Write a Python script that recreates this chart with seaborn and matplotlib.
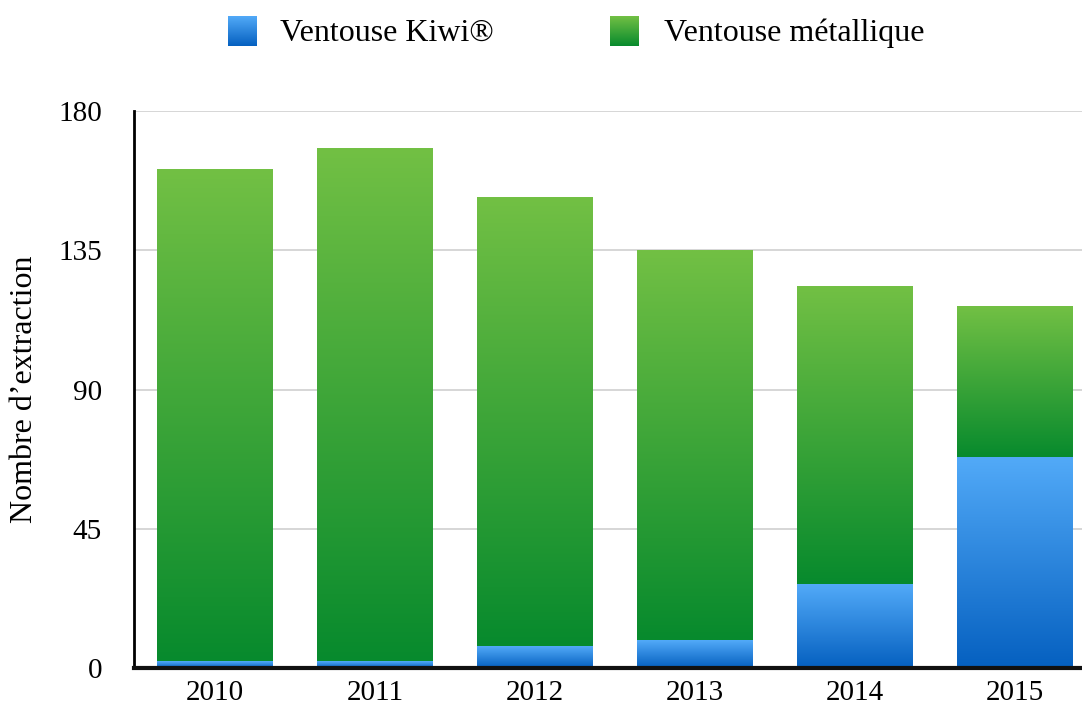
import numpy as np
import pandas as pd
import matplotlib
matplotlib.use("Agg")
import matplotlib.pyplot as plt
import seaborn as sns
from matplotlib.colors import LinearSegmentedColormap

# donnees
annees = ["2010", "2011", "2012", "2013", "2014", "2015"]
kiwi = [2, 2, 7, 9, 27, 68]
total = [161, 168, 152, 135, 123, 117]

serie_kiwi = "Ventouse Kiwi®"
serie_metal = "Ventouse métallique"

sns.set_style("white")
plt.rcParams["font.family"] = ["Liberation Serif", "DejaVu Serif"]
plt.rcParams["text.color"] = "black"
plt.rcParams["axes.labelcolor"] = "black"

df = pd.DataFrame({"annee": annees, "kiwi": kiwi, "total": total})

# degradés (haut clair -> bas foncé)
cmap_vert = LinearSegmentedColormap.from_list("vert", ["#078a2d", "#72c044"])
cmap_bleu = LinearSegmentedColormap.from_list("bleu", ["#0560c0", "#52aaf8"])
grad = np.linspace(0, 1, 256).reshape(-1, 1)

fig = plt.figure(figsize=(10.82, 7.07), dpi=100)
ax = fig.add_axes([134 / 1082, 1 - 668 / 707, (1082 - 134) / 1082, (668 - 111) / 707])

sns.barplot(data=df, x="annee", y="total", color="#3faa3a", width=0.72,
            ax=ax, saturation=1, zorder=2)
sns.barplot(data=df, x="annee", y="kiwi", color="#2a86e0", width=0.72,
            ax=ax, saturation=1, zorder=3)

# remplir chaque segment avec un degradé vertical
patches = ax.patches
n = len(annees)
for i, p in enumerate(patches[:n]):
    x0 = p.get_x()
    w = p.get_width()
    ax.imshow(grad, cmap=cmap_vert, origin="lower", aspect="auto",
              extent=[x0, x0 + w, kiwi[i], total[i]], zorder=4)
    p.set_visible(False)
for i, p in enumerate(patches[n:2 * n]):
    x0 = p.get_x()
    w = p.get_width()
    ax.imshow(grad, cmap=cmap_bleu, origin="lower", aspect="auto",
              extent=[x0, x0 + w, 0, kiwi[i]], zorder=4)
    p.set_visible(False)
ax.set_ylim(0, 180)
ax.set_xlim(-0.506, 5.419)

ax.set_yticks([0, 45, 90, 135, 180])
ax.yaxis.grid(True, color="#d3d3d3", linewidth=1.3, zorder=0)
ax.set_axisbelow(True)
ax.tick_params(axis="both", labelsize=21, length=0, colors="black")
ax.tick_params(axis="y", pad=23)
ax.tick_params(axis="x", pad=9)
ax.set_xlabel("")
ax.set_ylabel("Nombre d\u2019extraction", fontsize=23, labelpad=14)

for s in ["top", "right"]:
    ax.spines[s].set_visible(False)
ax.spines["left"].set_color("black")
ax.spines["left"].set_linewidth(2)
ax.spines["bottom"].set_color("#111111")
ax.spines["bottom"].set_linewidth(3)
ax.spines["bottom"].set_zorder(6)

# legende en haut
def carre(xpx, cmap, label, xtext):
    lax = fig.add_axes([xpx / 1082, 1 - 46 / 707, 29 / 1082, 30 / 707])
    lax.imshow(grad, cmap=cmap, origin="lower", aspect="auto")
    lax.axis("off")
    fig.text(xtext / 1082, 1 - 33 / 707, label, fontsize=23, va="center", ha="left")

carre(228, cmap_bleu, serie_kiwi, 280)
carre(610, cmap_vert, serie_metal, 664)

fig.savefig("out.png", dpi=100)
